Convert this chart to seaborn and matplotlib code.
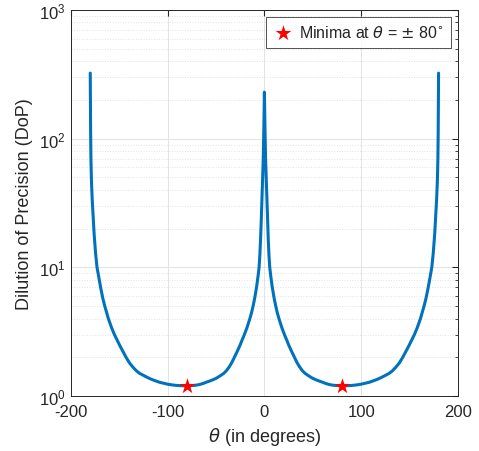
import numpy as np
import pandas as pd
import seaborn as sns
import matplotlib.pyplot as plt
from matplotlib.ticker import LogLocator, NullFormatter, FixedLocator

# values (left lobe, -180..0)
theta_left = [-180, -179.85, -179.6, -179.3, -178.8, -178, -177, -176, -174.5, -173,
              -171, -169, -167, -165, -163, -161.3, -158, -155, -152, -149,
              -146, -143, -139.5, -136, -132.5, -129, -123, -118, -113, -108.6,
              -104, -100, -95, -90, -85, -80, -76, -73, -70, -67,
              -63.5, -60, -55, -50, -46, -42, -39, -36, -33.5, -31,
              -28, -25, -23, -20.7, -18, -15, -13.3, -11.7, -10, -8,
              -6.7, -5.5, -4.7, -4, -3.3, -2.6, -1.9, -1.2, -0.5, 0]
dop_left = [323, 200, 110, 70, 48, 34, 24.5, 18.2, 12.9, 10,
            8.2, 6.8, 5.74, 5.0, 4.43, 4.0, 3.4, 3.0, 2.7, 2.43,
            2.2, 2.0, 1.81, 1.68, 1.574, 1.5, 1.42, 1.36, 1.315, 1.28,
            1.255, 1.235, 1.218, 1.207, 1.202, 1.2, 1.203, 1.208, 1.216, 1.228,
            1.25, 1.28, 1.32, 1.37, 1.43, 1.5, 1.58, 1.7, 1.83, 2.0,
            2.23, 2.5, 2.73, 3.0, 3.4, 4.0, 4.44, 5.0, 5.78, 7.1,
            8.4, 10, 12.5, 16.4, 22.6, 34, 48, 70, 130, 230]

# right lobe, 0..180
theta_right = [0.5, 1.2, 1.9, 2.6, 3.3, 4, 4.7, 5.5, 6.7, 8,
               10, 11.7, 13.3, 15, 18, 20.7, 23, 25, 28, 31,
               33.5, 36, 39, 42, 46, 50, 55, 60, 63.5, 67,
               70, 73, 76, 80, 85, 90, 95, 100, 104, 108.6,
               113, 118, 123, 129, 132.5, 136, 139.5, 143, 146, 149,
               152, 155, 158, 161.3, 163, 165, 167, 169, 171, 173,
               174.5, 176, 177, 178, 178.8, 179.3, 179.6, 179.85, 180]
dop_right = [130, 70, 48, 34, 22.6, 16.4, 12.5, 10, 8.4, 7.1,
             5.78, 5.0, 4.44, 4.0, 3.4, 3.0, 2.73, 2.5, 2.23, 2.0,
             1.83, 1.7, 1.58, 1.5, 1.43, 1.37, 1.32, 1.28, 1.25, 1.228,
             1.216, 1.208, 1.203, 1.2, 1.202, 1.207, 1.218, 1.235, 1.255, 1.28,
             1.315, 1.36, 1.42, 1.5, 1.574, 1.68, 1.81, 2.0, 2.2, 2.43,
             2.7, 3.0, 3.4, 4.0, 4.43, 5.0, 5.74, 6.8, 8.2, 10,
             12.9, 18.2, 24.5, 34, 48, 70, 110, 200, 323]

min_theta = [-80, 80]
min_dop = [1.2, 1.2]

df = pd.DataFrame({'theta': theta_left + theta_right,
                   'dop': dop_left + dop_right})
mins = pd.DataFrame({'theta': min_theta, 'dop': min_dop})

sns.set_style("white")
plt.rcParams['font.family'] = ['Liberation Sans', 'DejaVu Sans']
plt.rcParams['mathtext.fontset'] = 'dejavusans'
plt.rcParams['axes.unicode_minus'] = False

fig = plt.figure(figsize=(4.79, 4.52), dpi=100)
ax = fig.add_axes([0.148, 0.1217, 0.808, 0.854])

sns.lineplot(x='theta', y='dop', data=df, estimator=None, sort=False,
             color='#0072BD', linewidth=2.2, ax=ax)
sns.scatterplot(x='theta', y='dop', data=mins, marker='*', s=140,
                color='red', edgecolor='red', linewidth=0, zorder=5,
                label=r'Minima at $\theta$ = $\pm$ 80$^{\circ}$', ax=ax)

ax.set_yscale('log')
ax.set_xlim(-200, 200)
ax.set_ylim(1, 1000)
ax.xaxis.set_major_locator(FixedLocator([-200, -100, 0, 100, 200]))
ax.yaxis.set_major_locator(LogLocator(base=10, numticks=10))
ax.yaxis.set_minor_locator(LogLocator(base=10, subs=np.arange(2, 10), numticks=20))
ax.yaxis.set_minor_formatter(NullFormatter())

ax.grid(which='major', color='#e3e3e3', linewidth=0.7, linestyle='-')
ax.grid(which='minor', axis='y', color='#e3e3e3', linewidth=0.7, linestyle=':')
ax.set_axisbelow(True)

for sp in ax.spines.values():
    sp.set_color('#262626')
    sp.set_linewidth(0.7)
ax.tick_params(which='both', direction='in', top=True, right=True,
               colors='#262626', labelsize=12)
ax.tick_params(which='major', length=4)
ax.tick_params(which='minor', length=2)
ax.tick_params(axis='x', pad=6)
ax.tick_params(axis='y', pad=4)

ax.set_xlabel(r'$\theta$ (in degrees)', fontsize=13, color='#262626')
ax.set_ylabel('Dilution of Precision (DoP)', fontsize=13, color='#262626')

leg = ax.legend(loc='upper right', fontsize=11.5, frameon=True, fancybox=False,
                handletextpad=0.4, borderpad=0.45, handlelength=1.2,
                borderaxespad=0.45)
leg.get_frame().set_edgecolor('#262626')
leg.get_frame().set_linewidth(0.7)

fig.savefig('out.png', dpi=100)
